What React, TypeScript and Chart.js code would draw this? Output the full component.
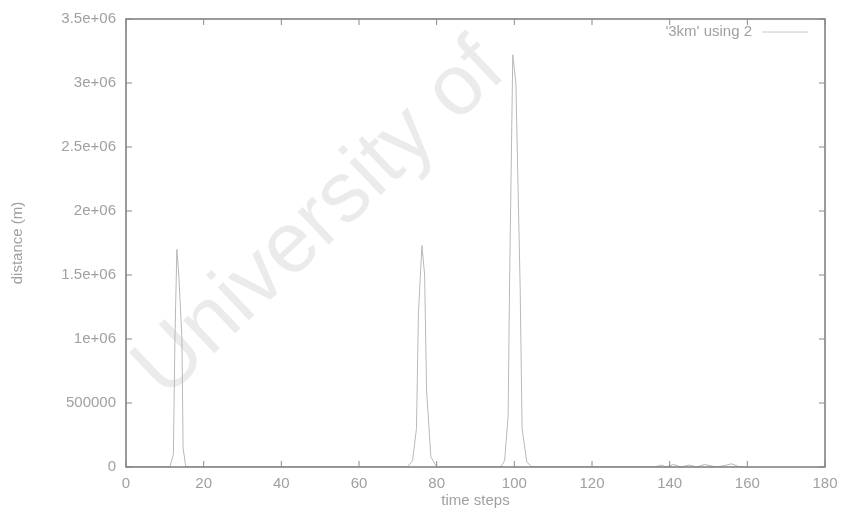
import React, { useEffect, useRef } from "react";
import { Chart, registerables } from "chart.js";

Chart.register(...registerables);

// time step positions and distance values
const timeSteps = [
  0, 11.3, 12.2, 12.6, 13.1, 13.6, 14.4, 14.7, 15.4,
  72.5, 73.8, 74.8, 75.3, 76.2, 76.9, 77.4, 78.5, 80.0,
  96.5, 97.5, 98.4, 98.8, 99.6, 100.4, 101.5, 102.0, 103.2, 104.5,
  136, 138, 139, 141, 143, 145, 147, 149, 152, 154, 156, 158, 160,
];
const distance = [
  0, 0, 100000, 1000000, 1700000, 1500000, 1000000, 150000, 0,
  0, 50000, 300000, 1200000, 1730000, 1500000, 600000, 80000, 0,
  0, 50000, 400000, 1500000, 3220000, 3000000, 1400000, 300000, 40000, 0,
  0, 15000, 0, 20000, 0, 15000, 0, 20000, 0, 10000, 25000, 0, 0,
];

const xTicks = [0, 20, 40, 60, 80, 100, 120, 140, 160, 180];
const yTicks = [0, 500000, 1000000, 1500000, 2000000, 2500000, 3000000, 3500000];
const yTickLabels = ["0", "500000", "1e+06", "1.5e+06", "2e+06", "2.5e+06", "3e+06", "3.5e+06"];
const seriesLabel = "'3km' using 2";
const xTitle = "time steps";
const yTitle = "distance (m)";
const watermark = "University of";

const FONT = "'Liberation Sans', Arial, sans-serif";
const TXT = "#a0a0a0";

export default function App() {
  const ref = useRef<HTMLCanvasElement | null>(null);

  useEffect(() => {
    if (!ref.current) return;

    const framePlugin = {
      id: "frame",
      beforeDatasetsDraw(chart: any) {
        const { ctx } = chart;
        ctx.save();
        ctx.translate(165, 400);
        ctx.rotate((-43.5 * Math.PI) / 180);
        ctx.font = `86px ${FONT}`;
        ctx.fillStyle = "rgba(0,0,0,0.08)";
        ctx.textAlign = "left";
        ctx.textBaseline = "alphabetic";
        ctx.fillText(watermark, 0, 0);
        ctx.restore();
      },
      afterDatasetsDraw(chart: any) {
        const { ctx, chartArea: a, scales } = chart;
        ctx.save();
        ctx.strokeStyle = "#7a7a7a";
        ctx.lineWidth = 1.5;
        ctx.strokeRect(a.left, a.top, a.right - a.left, a.bottom - a.top);
        ctx.lineWidth = 1;
        ctx.strokeStyle = "#8a8a8a";
        const tl = 6;
        ctx.beginPath();
        xTicks.forEach((v) => {
          const x = scales.x.getPixelForValue(v);
          ctx.moveTo(x, a.bottom);
          ctx.lineTo(x, a.bottom - tl);
          ctx.moveTo(x, a.top);
          ctx.lineTo(x, a.top + tl);
        });
        yTicks.forEach((v) => {
          const y = scales.y.getPixelForValue(v);
          ctx.moveTo(a.left, y);
          ctx.lineTo(a.left + tl, y);
          ctx.moveTo(a.right, y);
          ctx.lineTo(a.right - tl, y);
        });
        ctx.stroke();
        // legend (gnuplot style)
        ctx.font = `15px ${FONT}`;
        ctx.fillStyle = TXT;
        ctx.textAlign = "right";
        ctx.textBaseline = "middle";
        ctx.fillText(seriesLabel, 752, 32);
        ctx.strokeStyle = "#c8c8c8";
        ctx.lineWidth = 1;
        ctx.beginPath();
        ctx.moveTo(762, 32);
        ctx.lineTo(808, 32);
        ctx.stroke();
        ctx.restore();
      },
    };

    const chart = new Chart(ref.current, {
      type: "scatter",
      data: {
        datasets: [
          {
            label: seriesLabel,
            data: timeSteps.map((t, i) => ({ x: t, y: distance[i] })),
            showLine: true,
            borderColor: "#b8b8b8",
            borderWidth: 1,
            pointRadius: 0,
            tension: 0,
          },
        ],
      },
      options: {
        animation: false,
        responsive: false,
        maintainAspectRatio: false,
        layout: { padding: { left: 0, top: 17, right: 21, bottom: 0 } },
        plugins: { legend: { display: false }, tooltip: { enabled: false } },
        scales: {
          x: {
            type: "linear",
            min: 0,
            max: 180,
            afterBuildTicks: (s: any) => {
              s.ticks = xTicks.map((v) => ({ value: v }));
            },
            afterFit: (s: any) => {
              s.height = 46;
            },
            grid: { display: false, drawTicks: false },
            border: { display: false },
            ticks: {
              color: TXT,
              font: { family: FONT, size: 15 },
              padding: 8,
              maxRotation: 0,
              autoSkip: false,
              callback: (v: any) => String(v),
            },
            title: {
              display: true,
              text: xTitle,
              color: TXT,
              font: { family: FONT, size: 15 },
              padding: { top: 0, bottom: 3 },
            },
          },
          y: {
            type: "linear",
            min: 0,
            max: 3500000,
            afterBuildTicks: (s: any) => {
              s.ticks = yTicks.map((v) => ({ value: v }));
            },
            afterFit: (s: any) => {
              s.width = 126;
            },
            grid: { display: false, drawTicks: false },
            border: { display: false },
            ticks: {
              color: TXT,
              font: { family: FONT, size: 15 },
              padding: 10,
              autoSkip: false,
              callback: (v: any) => {
                const i = yTicks.indexOf(Number(v));
                return i >= 0 ? yTickLabels[i] : "";
              },
            },
            title: {
              display: true,
              text: yTitle,
              color: TXT,
              font: { family: FONT, size: 15 },
              padding: { top: 9, bottom: 0 },
            },
          },
        },
      },
      plugins: [framePlugin],
    });
    return () => chart.destroy();
  }, []);

  return (
    <div style={{ position: "fixed", left: 0, top: 0, width: 846, height: 513, background: "#fff" }}>
      <canvas ref={ref} width={846} height={513} style={{ display: "block" }} />
    </div>
  );
}
